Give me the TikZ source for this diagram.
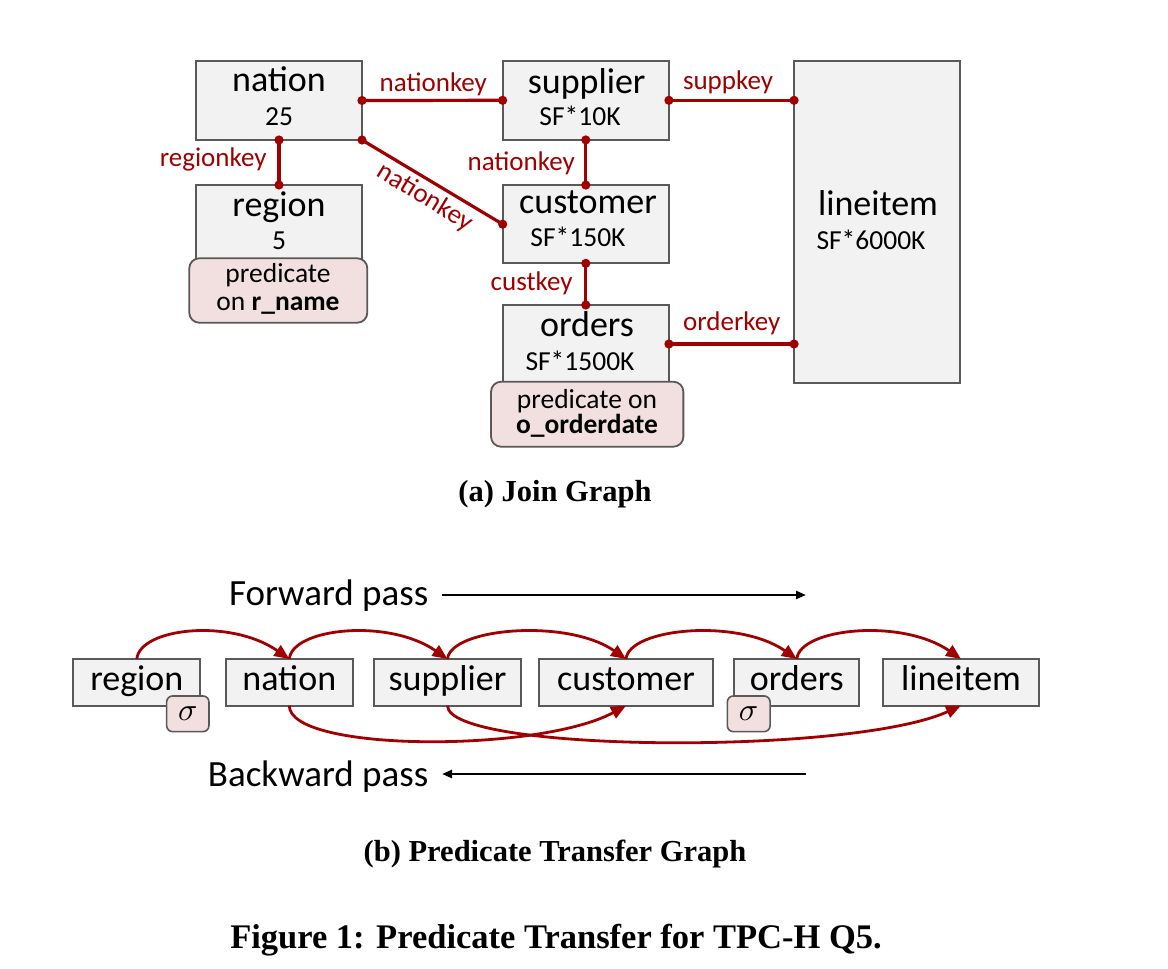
\documentclass[tikz,border=0pt]{standalone}
\usepackage{fontspec}
\setmainfont{Carlito}
\newfontfamily\capfont{Liberation Serif}
\usetikzlibrary{arrows.meta,calc}
\definecolor{jred}{HTML}{A00000}
\definecolor{boxfill}{HTML}{F2F2F2}
\definecolor{boxline}{HTML}{595959}
\definecolor{predfill}{HTML}{F2E0E0}
\begin{document}
\begin{tikzpicture}[x=1pt,y=-1pt,
  tbl/.style={draw=boxline,fill=boxfill,line width=1.8pt,inner sep=0pt,outer sep=0pt},
  pred/.style={draw=boxline,fill=predfill,line width=1.8pt,rounded corners=10pt,inner sep=0pt,outer sep=0pt},
  sig/.style={draw=boxline,fill=predfill,line width=1.6pt,rounded corners=6pt,inner sep=0pt,outer sep=0pt,minimum height=35.7pt},
  ttl/.style={anchor=base,inner sep=0pt,font=\fontsize{36}{40}\selectfont},
  sub/.style={anchor=base,inner sep=0pt,font=\fontsize{27.5}{30}\selectfont},
  key/.style={inner sep=0pt,text=jred,font=\fontsize{27}{30}\selectfont},
  jline/.style={draw=jred,line width=3.2pt},
  bbox/.style={tbl,minimum height=46.6pt,text height=24pt,text depth=8.6pt,font=\fontsize{36}{40}\selectfont},
  flow/.style={draw=jred,line width=2.8pt,-{Triangle[length=15pt,width=12.5pt]}},
  pass/.style={draw=black,line width=2.4pt,-{Triangle[length=10pt,width=8pt]}},
  passtxt/.style={anchor=base east,inner sep=0pt,font=\fontsize{37}{40}\selectfont},
  captxt/.style={anchor=base,inner sep=0pt,font=\capfont\bfseries\fontsize{30.5}{33}\selectfont}]
\useasboundingbox (0,0) rectangle (1168,969);
\fill[white] (0,0) rectangle (1168,969);

% ---------- (a) Join graph ----------
\node[tbl,minimum width=166pt,minimum height=79pt] (nation) at (279,100.5) {};
\node[tbl,minimum width=166pt,minimum height=77pt] (region) at (279,223.5) {};
\node[pred,minimum width=178pt,minimum height=64.4pt] (regpred) at (278.3,290.5) {};
\node[tbl,minimum width=166.3pt,minimum height=79.3pt] (supplier) at (585.8,100.3) {};
\node[tbl,minimum width=166.3pt,minimum height=78.3pt] (customer) at (585.8,224.2) {};
\node[tbl,minimum width=166.3pt,minimum height=78pt] (orders) at (585.8,344) {};
\node[pred,minimum width=192.3pt,minimum height=65pt] (ordpred) at (587.2,414.2) {};
\node[tbl,minimum width=166.3pt,minimum height=322.6pt] (lineitem) at (877.2,222) {};

\node[ttl] (tnation) at (279,91.7) {nation};
\node[sub] (snation) at (279,125) {25};
\node[ttl] (tregion) at (279,216.7) {region};
\node[sub] (sregion) at (279,249) {5};
\node[sub] (p1a) at (278,282) {predicate};
\node[sub] (p1b) at (278,310) {on \textbf{r\_name}};
\node[ttl] (tsupplier) at (586.7,93.3) {supplier};
\node[sub] (ssupplier) at (580,125) {SF*10K};
\node[ttl] (tcustomer) at (588,213) {customer};
\node[sub] (scustomer) at (578,246.7) {SF*150K};
\node[ttl] (torders) at (587,336.7) {orders};
\node[sub] (sorders) at (580,370.7) {SF*1500K};
\node[sub] (p2a) at (587,408) {predicate on};
\node[sub] (p2b) at (587,433) {\textbf{o\_orderdate}};
\node[ttl] (tlineitem) at (878,215.7) {lineitem};
\node[sub] (slineitem) at (871,249.3) {SF*6000K};

\coordinate (sl) at (supplier.east -| lineitem.west);
\coordinate (ol) at (orders.east -| lineitem.west);
\draw[jline] (nation.east) -- (supplier.west);
\draw[jline] (nation.south east) -- (customer.west);
\draw[jline] (nation.south) -- (region.north);
\draw[jline] (supplier.south) -- (customer.north);
\draw[jline] (customer.south) -- (orders.north);
\draw[jline] (supplier.east) -- (sl);
\draw[jline] (orders.east) -- (ol);
\foreach \p in {nation.east,supplier.west,nation.south east,customer.west,nation.south,region.north,
  supplier.south,customer.north,customer.south,orders.north,supplier.east,sl,orders.east,ol}
  \fill[jred] (\p) circle (4.6);

\node[key,anchor=base] (k1) at (433.3,91.7) {nationkey};
\node[key,rotate=-31.4] (k2) at (424.8,197.5) {nationkey};
\node[key,anchor=base east] (k3) at (266.7,166) {regionkey};
\node[key,anchor=base east] (k4) at (575,170) {nationkey};
\node[key,anchor=base east] (k5) at (572.7,290) {custkey};
\node[key,anchor=base] (k6) at (728,89) {suppkey};
\node[key,anchor=base] (k7) at (731.7,330) {orderkey};

\node[captxt] (capa) at (555,501) {(a) Join Graph};

% ---------- (b) Predicate transfer graph ----------
\coordinate (fwdS) at (442,595);
\coordinate (fwdE) at (806,595);
\coordinate (bwdS) at (806,774);
\coordinate (bwdE) at (442,774);
\node[passtxt] (fwdtxt) at (428.5,605) {Forward pass};
\node[passtxt] (bwdtxt) at (428.5,786) {Backward pass};
\draw[pass] (fwdS) -- (fwdE);
\draw[pass] (bwdS) -- (bwdE);

\node[bbox,minimum width=127pt] (bregion) at (136.8,682.3) {region};
\node[bbox,minimum width=127.3pt] (bnation) at (289.3,682.3) {nation};
\node[bbox,minimum width=147pt] (bsupplier) at (447.5,682.3) {supplier};
\node[bbox,minimum width=173.4pt] (bcustomer) at (626,682.3) {customer};
\node[bbox,minimum width=125pt] (borders) at (796.8,682.3) {orders};
\node[bbox,minimum width=155.4pt] (blineitem) at (961,682.3) {lineitem};
\node[sig,minimum width=42.3pt] (sig1) at (187.8,713.8) {\scalebox{3.2}{$\sigma$}};
\node[sig,minimum width=42.7pt] (sig2) at (748.7,713.8) {\scalebox{3.2}{$\sigma$}};

\foreach \a/\b in {bregion/bnation,bnation/bsupplier,bsupplier/bcustomer,bcustomer/borders,borders/blineitem}
  \draw[flow] (\a.north) .. controls ($(\a.north)+(3,-31)$) and ($(\b.north)+(-59,-41)$) .. (\b.north);
\draw[flow] (bnation.south) .. controls ($(bnation.south)+(0,47)$) and ($(bcustomer.south)+(-86,47)$) .. (bcustomer.south);
\draw[flow] (bsupplier.south) .. controls ($(bsupplier.south)+(0,47)$) and ($(blineitem.south)+(-110,50)$) .. (blineitem.south);

\node[captxt] (capb) at (555,861) {(b) Predicate Transfer Graph};
\node[captxt,font=\capfont\bfseries\fontsize{34.5}{37}\selectfont] (capfig) at (556,948) {Figure 1: Predicate Transfer for TPC-H Q5.};
\end{tikzpicture}
\end{document}
